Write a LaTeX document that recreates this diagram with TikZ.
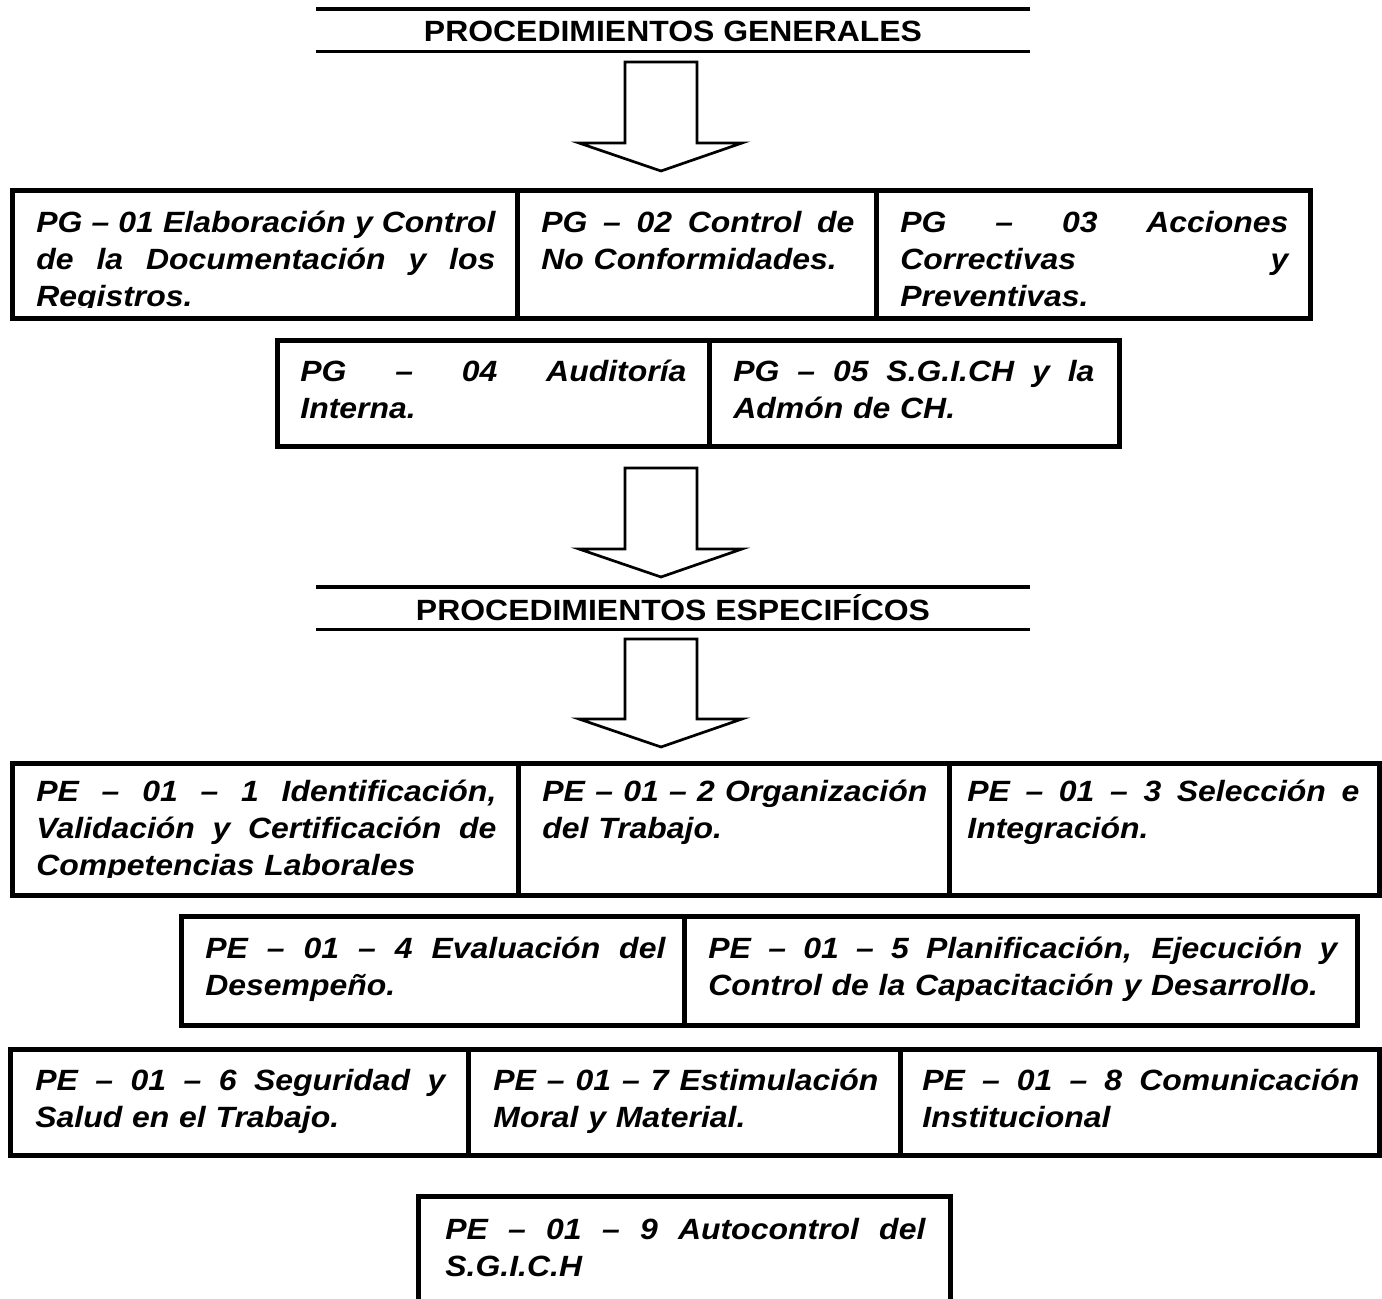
\documentclass[tikz,border=0pt]{standalone}
\usepackage{fontspec}
\setmainfont{Liberation Sans}[FakeStretch=1.09]
\newcommand{\jl}[1]{\noindent\hbox to \hsize{\spaceskip=\fontdimen2\font plus 1fil\relax\strut#1}}

\begin{document}
\begin{tikzpicture}[
  x=0.5pt,y=-0.5pt,
  cell/.style={draw,line width=2.5pt},
  rule/.style={line width=1.6pt},
  blockarrow/.style={draw,fill=white,line width=1.35pt,line join=miter},
  head/.style={anchor=base,inner sep=0pt,font=\fontsize{14.65}{18.5}\selectfont\bfseries},
  txt/.style={anchor=north west,inner sep=0pt,align=left,
    font=\fontsize{14.65}{18.5}\selectfont\bfseries\itshape}]
\path[use as bounding box] (0,0) rectangle (1382,1299);

% titles
\draw[rule] (316,9) -- (1030,9);
\node[head] (gen) at (673,42) {PROCEDIMIENTOS GENERALES};
\draw[rule] (316,51.5) -- (1030,51.5);
\draw[rule] (316,587) -- (1030,587);
\node[head] (esp) at (673,620) {PROCEDIMIENTOS ESPECIFÍCOS};
\draw[rule] (316,629.5) -- (1030,629.5);

% block arrows
\foreach \t/\s/\p in {62/143/171, 468/549/577, 639/719/747}
  \draw[blockarrow] (625,\t) -- (697,\t) -- (697,\s) -- (742,\s) -- (661,\p)
    -- (579,\s) -- (625,\s) -- cycle;

% PG row 1
\begin{scope}
\clip (12,190.5) rectangle (1310,308);
\node[txt,text width=229.5pt] (pg01) at (36,206.1)
  {\jl{PG -- 01 Elaboración y Control}\\ \jl{de la Documentación y los}\\ Registros.};
\node[txt,text width=156.5pt] (pg02) at (541,206.1)
  {\jl{PG -- 02 Control de}\\ No Conformidades.};
\node[txt,text width=194pt] (pg03) at (900,206.1)
  {\jl{PG -- 03 Acciones}\\ \jl{Correctivas y}\\ Preventivas.};
\end{scope}
\draw[cell] (12,190.5) rectangle (517,319);
\draw[cell] (517,190.5) rectangle (876,319);
\draw[cell] (876,190.5) rectangle (1310,319);

% PG row 2
\node[txt,text width=193pt] (pg04) at (300,355.1)
  {\jl{PG -- 04 Auditoría}\\ Interna.};
\node[txt,text width=180.5pt] (pg05) at (733,355.1)
  {\jl{PG -- 05 S.G.I.CH y la}\\ Admón de CH.};
\draw[cell] (277,340.5) rectangle (709,446.5);
\draw[cell] (709,340.5) rectangle (1119,446.5);

% PE row 1
\begin{scope}
\clip (12,763) rectangle (1380,877);
\node[txt,text width=230pt] (pe1) at (36,775.1)
  {\jl{PE -- 01 -- 1 Identificación,}\\ \jl{Validación y Certificación de}\\ Competencias Laborales};
\node[txt,text width=192.5pt] (pe2) at (542,775.1)
  {\jl{PE -- 01 -- 2 Organización}\\ del Trabajo.};
\node[txt,text width=196pt] (pe3) at (967,775.1)
  {\jl{PE -- 01 -- 3 Selección e}\\ Integración.};
\end{scope}
\draw[cell] (12,763) rectangle (518,895);
\draw[cell] (518,763) rectangle (949,895);
\draw[cell] (949,763) rectangle (1379.5,895);

% PE row 2
\node[txt,text width=230pt] (pe4) at (205,932.1)
  {\jl{PE -- 01 -- 4 Evaluación del}\\ Desempeño.};
\node[txt,text width=314.5pt] (pe5) at (708,932.1)
  {\jl{PE -- 01 -- 5 Planificación, Ejecución y}\\ Control de la Capacitación y Desarrollo.};
\draw[cell] (181,916) rectangle (684,1025);
\draw[cell] (684,916) rectangle (1357,1025);

% PE row 3
\node[txt,text width=205pt] (pe6) at (35,1064.1)
  {\jl{PE -- 01 -- 6 Seguridad y}\\ Salud en el Trabajo.};
\node[txt,text width=192.5pt] (pe7) at (493,1064.1)
  {\jl{PE -- 01 -- 7 Estimulación}\\ Moral y Material.};
\node[txt,text width=218.5pt] (pe8) at (922,1064.1)
  {\jl{PE -- 01 -- 8 Comunicación}\\ Institucional};
\draw[cell] (10.5,1049) rectangle (468,1155);
\draw[cell] (468,1049) rectangle (900,1155);
\draw[cell] (900,1049) rectangle (1379.5,1155);

% PE row 4
\node[txt,text width=240pt] (pe9) at (445,1213.1)
  {\jl{PE -- 01 -- 9 Autocontrol del}\\ S.G.I.C.H};
\draw[cell] (418,1196) rectangle (950,1320);
\end{tikzpicture}
\end{document}
